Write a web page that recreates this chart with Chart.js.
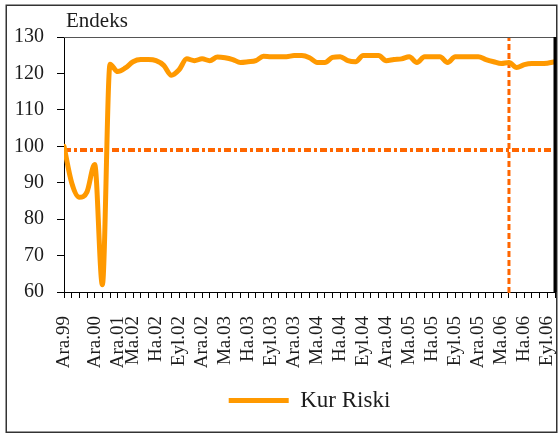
<!DOCTYPE html>
<html>
<head>
<meta charset="utf-8">
<script src="https://cdn.jsdelivr.net/npm/chart.js@4/dist/chart.umd.min.js"></script>
<style>
  html, body { margin: 0; padding: 0; background: #fff; }
  #wrap { width: 559px; height: 435px; }
</style>
</head>
<body>
<div id="wrap"><canvas id="c" width="559" height="435"></canvas></div>
<script>
// Series values (index 0 .. 64 on the category position axis)
const kurRiski = [100, 90, 86, 87.5, 95, 62, 122.5, 120.5, 121.5, 123.2, 123.8, 123.8, 123.5, 122.2, 119.5, 121, 124, 123.5, 124, 123.5, 124.5, 124.3, 123.8, 123, 123.2, 123.5, 124.7, 124.6, 124.6, 124.6, 124.9, 124.9, 124.3, 123, 123, 124.4, 124.6, 123.5, 123.2, 124.9, 124.9, 124.9, 123.5, 123.8, 124, 124.6, 123, 124.6, 124.6, 124.6, 123, 124.6, 124.6, 124.6, 124.6, 123.8, 123.2, 122.7, 123, 121.6, 122.4, 122.7, 122.7, 122.8, 123.2];
// Tick label positions and texts
const tickPositions = [0, 4, 7, 9, 12, 15, 18, 21, 24, 27, 30, 33, 36, 39, 42, 45, 48, 51, 54, 57, 60, 63];
const tickTexts = ['Ara.99', 'Ara.00', 'Ara.01', 'Ma.02', 'Ha.02', 'Eyl.02', 'Ara.02', 'Ma.03', 'Ha.03', 'Eyl.03', 'Ara.03', 'Ma.04', 'Ha.04', 'Eyl.04', 'Ara.04', 'Ma.05', 'Ha.05', 'Eyl.05', 'Ara.05', 'Ma.06', 'Ha.06', 'Eyl.06'];
const yTicks = [60, 70, 80, 90, 100, 110, 120, 130];
// Reference lines
const refLevel = 99;
const refIndex = 58;
const seriesName = 'Kur Riski';
const yUnit = 'Endeks';

const lastIdx = kurRiski.length - 1;
const mainPoints = kurRiski.map((v, i) => ({ x: i, y: v }));
const hLine = [{ x: 0, y: refLevel }, { x: lastIdx + 0.2, y: refLevel }];
const vLine = [{ x: refIndex, y: yTicks[0] - 0.3 }, { x: refIndex, y: yTicks[yTicks.length - 1] }];

const SERIF = "'Liberation Serif', 'Times New Roman', serif";
const TXT = '#1c1c1c';

const framePlugin = {
  id: 'frame',
  afterDraw(chart) {
    const { ctx, chartArea: a } = chart;
    ctx.save();
    // outer frame
    ctx.strokeStyle = '#333';
    ctx.lineWidth = 1.5;
    ctx.strokeRect(6.25, 5.25, 550.5, 427);
    // plot top border
    ctx.strokeStyle = '#555';
    ctx.lineWidth = 1;
    ctx.beginPath();
    ctx.moveTo(a.left, a.top + 0.5);
    ctx.lineTo(556, a.top + 0.5);
    ctx.stroke();
    // plot right border (thick)
    ctx.strokeStyle = '#000';
    ctx.lineWidth = 3;
    ctx.beginPath();
    ctx.moveTo(a.right, a.top);
    ctx.lineTo(a.right, a.bottom);
    ctx.stroke();
    // unit label
    ctx.fillStyle = TXT;
    ctx.font = "21px " + SERIF;
    ctx.textBaseline = 'alphabetic';
    ctx.textAlign = 'left';
    ctx.fillText(yUnit, 66, 27);
    ctx.restore();
  }
};

new Chart(document.getElementById('c'), {
  type: 'line',
  data: {
    datasets: [
      {
        label: seriesName,
        data: mainPoints,
        borderColor: '#FF9900',
        backgroundColor: '#FF9900',
        borderWidth: 5,
        borderCapStyle: 'round',
        borderJoinStyle: 'round',
        pointRadius: 0,
        cubicInterpolationMode: 'monotone',
        order: 0
      },
      {
        label: 'ref-h',
        data: hLine,
        borderColor: '#FF6600',
        borderWidth: 4,
        borderDash: [7, 3, 3, 3],
        pointRadius: 0,
        tension: 0,
        clip: false,
        order: 1
      },
      {
        label: 'ref-v',
        data: vLine,
        borderColor: '#FF6600',
        borderWidth: 3,
        borderDash: [6, 3],
        pointRadius: 0,
        tension: 0,
        clip: false,
        order: 1
      }
    ]
  },
  options: {
    responsive: false,
    animation: false,
    events: [],
    layout: { padding: { left: 6, right: 4, top: 37, bottom: 13 } },
    plugins: {
      legend: {
        display: true,
        position: 'bottom',
        fullSize: false,
        labels: {
          filter: (item) => item.datasetIndex === 0,
          usePointStyle: true,
          pointStyle: 'line',
          pointStyleWidth: 60,
          boxHeight: 5,
          padding: 6,
          color: TXT,
          font: { family: SERIF, size: 23 }
        }
      },
      tooltip: { enabled: false }
    },
    scales: {
      x: {
        type: 'linear',
        min: 0,
        max: lastIdx,
        afterFit: (s) => { s.height = 91; s.paddingLeft = 0; s.paddingRight = 0; },
        border: { display: true, color: '#000', width: 1 },
        grid: { display: true, drawOnChartArea: false, drawTicks: true, tickLength: 6, tickColor: '#000', lineWidth: 1 },
        ticks: {
          stepSize: 1,
          autoSkip: false,
          maxRotation: 90,
          minRotation: 90,
          padding: 18,
          color: TXT,
          font: { family: SERIF, size: 19 },
          callback: (v) => {
            const k = tickPositions.indexOf(v);
            return k >= 0 ? tickTexts[k] : '';
          }
        }
      },
      y: {
        type: 'linear',
        min: yTicks[0],
        max: yTicks[yTicks.length - 1],
        afterFit: (s) => { s.width = 58; },
        afterBuildTicks: (s) => { s.ticks = yTicks.map(v => ({ value: v })); },
        border: { display: true, color: '#000', width: 1 },
        grid: { display: true, drawOnChartArea: false, drawTicks: true, tickLength: 7, tickColor: '#000', lineWidth: 1 },
        ticks: {
          padding: 13,
          color: TXT,
          font: { family: SERIF, size: 20 }
        }
      }
    }
  },
  plugins: [framePlugin]
});
</script>
</body>
</html>
